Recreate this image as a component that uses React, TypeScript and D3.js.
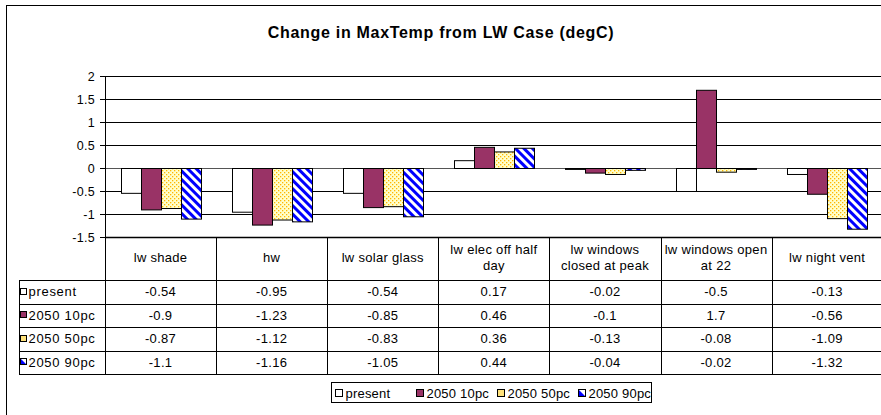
import React from "react";
import * as d3 from "d3";

const categories: string[][] = [
  ["lw shade"],
  ["hw"],
  ["lw solar glass"],
  ["lw elec off half", "day"],
  ["lw windows", "closed at peak"],
  ["lw windows open", "at 22"],
  ["lw night vent"],
];
const seriesNames = ["present", "2050 10pc", "2050 50pc", "2050 90pc"];
const present = [-0.54, -0.95, -0.54, 0.17, -0.02, -0.5, -0.13];
const s10 = [-0.9, -1.23, -0.85, 0.46, -0.1, 1.7, -0.56];
const s50 = [-0.87, -1.12, -0.83, 0.36, -0.13, -0.08, -1.09];
const s90 = [-1.1, -1.16, -1.05, 0.44, -0.04, -0.02, -1.32];
const yTicks = [2, 1.5, 1, 0.5, 0, -0.5, -1, -1.5];
const title = "Change in MaxTemp from LW Case (degC)";

const seriesValues = [present, s10, s50, s90];
const fills = ["#FFFFFF", "#993366", "url(#dots)", "url(#stripes)"];
const FONT = "'Liberation Sans', Arial, sans-serif";

export default function App() {
  const plotLeft = 105;
  const step = 111.1;
  const catKeys = categories.map((c) => c.join(" "));
  const x0 = d3
    .scaleBand<string>()
    .domain(catKeys)
    .range([plotLeft, plotLeft + step * categories.length])
    .padding(0);
  const groupW = 80;
  const x1 = d3.scaleBand<string>().domain(seriesNames).range([0, groupW]).padding(0);
  const y = d3.scaleLinear().domain([-1.5, 2]).range([237, 76]);
  const plotRight = 890;

  const headerTop = 237;
  const headerBottom = 280;
  const rowH = 23.5;
  const tableLeft = 19;
  const fmt = (v: number) => String(v);
  const TS = 13;
  const LS = 0.3;

  const legendItems = [
    { x: 335, name: seriesNames[0] },
    { x: 416, name: seriesNames[1] },
    { x: 497, name: seriesNames[2] },
    { x: 578, name: seriesNames[3] },
  ];

  const Icon = ({ x, yy, i, s = 7 }: { x: number; yy: number; i: number; s?: number }) => {
    if (i === 3) {
      return (
        <g>
          <rect x={x} y={yy} width={s} height={s} fill="#fff" />
          <polygon points={`${x},${yy} ${x + s},${yy + s} ${x},${yy + s}`} fill="#0000FF" />
          <rect x={x} y={yy} width={s} height={s} fill="none" stroke="#000" strokeWidth={1} />
        </g>
      );
    }
    if (i === 2) {
      return <rect x={x} y={yy} width={s} height={s} fill="#FFE27A" stroke="#000" strokeWidth={1} />;
    }
    return <rect x={x} y={yy} width={s} height={s} fill={fills[i]} stroke="#000" strokeWidth={1} />;
  };

  return (
    <svg
      width={881}
      height={415}
      style={{ position: "absolute", left: 0, top: 0, background: "#fff" }}
      fontFamily={FONT}
    >
      <defs>
        <pattern id="dots" patternUnits="userSpaceOnUse" width={4} height={4}>
          <rect width={4} height={4} fill="#FFFFCC" />
          <rect x={0} y={0} width={1.3} height={1.3} fill="#FFB800" />
          <rect x={2} y={2} width={1.3} height={1.3} fill="#FFB800" />
        </pattern>
        <pattern
          id="stripes"
          patternUnits="userSpaceOnUse"
          width={6}
          height={6}
          patternTransform="rotate(-45)"
        >
          <rect width={6} height={6} fill="#fff" />
          <rect width={3} height={6} fill="#0000FF" />
        </pattern>
      </defs>
      <rect x={6.5} y={5.5} width={900} height={420} fill="#fff" stroke="#000" strokeWidth={1} />

      <text x={441} y={37.5} textAnchor="middle" fontSize={16} fontWeight="bold" letterSpacing={0.7}>
        {title}
      </text>

      {yTicks.map((t) => (
        <g key={t}>
          <line
            x1={plotLeft}
            x2={plotRight}
            y1={Math.round(y(t)) + 0.5}
            y2={Math.round(y(t)) + 0.5}
            stroke={t === 0 ? "#555" : "#000"}
            strokeWidth={1}
          />
          <line
            x1={plotLeft - 5}
            x2={plotLeft}
            y1={Math.round(y(t)) + 0.5}
            y2={Math.round(y(t)) + 0.5}
            stroke="#000"
          />
          <text x={95} y={Math.round(y(t)) + 5} textAnchor="end" fontSize={12.5} letterSpacing={0.3}>
            {t}
          </text>
        </g>
      ))}

      {catKeys.map((c, ci) =>
        seriesValues.map((vals, si) => {
          const v = vals[ci];
          const bx = (x0(c) as number) + (x0.bandwidth() - groupW) / 2 + (x1(seriesNames[si]) as number);
          const top = Math.min(y(v), y(0));
          const h = Math.abs(y(v) - y(0));
          return (
            <rect
              key={c + si}
              x={Math.round(bx) + 0.5}
              y={top + 0.5}
              width={x1.bandwidth()}
              height={Math.max(h, 0.5)}
              fill={fills[si]}
              stroke="#000"
              strokeWidth={1}
            />
          );
        })
      )}

      {/* table */}
      <line x1={plotLeft + 0.5} x2={plotLeft + 0.5} y1={76} y2={374} stroke="#000" />
      <line x1={plotLeft} x2={plotRight} y1={headerTop + 0.5} y2={headerTop + 0.5} stroke="#000" strokeWidth={1.5} />
      {catKeys.map((c) => (
        <line
          key={"v" + c}
          x1={Math.round((x0(c) as number) + x0.bandwidth()) + 0.5}
          x2={Math.round((x0(c) as number) + x0.bandwidth()) + 0.5}
          y1={headerTop}
          y2={374}
          stroke="#000"
        />
      ))}
      <line x1={tableLeft + 0.5} x2={tableLeft + 0.5} y1={headerBottom} y2={374} stroke="#000" />
      {[0, 1, 2, 3, 4].map((r) => (
        <line
          key={"h" + r}
          x1={tableLeft}
          x2={plotRight}
          y1={Math.round(headerBottom + r * rowH) + 0.5}
          y2={Math.round(headerBottom + r * rowH) + 0.5}
          stroke="#000"
        />
      ))}
      {categories.map((lines, ci) => {
        const cx = (x0(catKeys[ci]) as number) + x0.bandwidth() / 2;
        const mid = (headerTop + headerBottom) / 2;
        return (
          <text key={"c" + ci} textAnchor="middle" fontSize={TS} letterSpacing={LS}>
            {lines.map((l, li) => (
              <tspan key={li} x={cx} y={mid + 3.5 + (li - (lines.length - 1) / 2) * 16.5}>
                {l}
              </tspan>
            ))}
          </text>
        );
      })}
      {seriesNames.map((s, si) => {
        const cy = headerBottom + si * rowH + rowH / 2;
        return (
          <g key={"r" + s}>
            <Icon x={20.5} yy={Math.round(cy) - 3.5} i={si} s={6} />
            <text x={28.5} y={cy + 4.5} fontSize={TS} letterSpacing={0.7}>
              {s}
            </text>
            {catKeys.map((c, ci) => (
              <text
                key={c}
                x={(x0(c) as number) + x0.bandwidth() / 2}
                y={cy + 4.5}
                textAnchor="middle"
                fontSize={TS}
                letterSpacing={LS}
              >
                {fmt(seriesValues[si][ci])}
              </text>
            ))}
          </g>
        );
      })}

      {/* legend */}
      <rect x={331.5} y={382.5} width={320} height={20} fill="#fff" stroke="#000" />
      {legendItems.map((it, i) => (
        <g key={it.name}>
          <Icon x={it.x + 0.5} yy={389.5} i={i} />
          <text x={it.x + 10.5} y={397.5} fontSize={TS} letterSpacing={0.2}>
            {it.name}
          </text>
        </g>
      ))}
    </svg>
  );
}
